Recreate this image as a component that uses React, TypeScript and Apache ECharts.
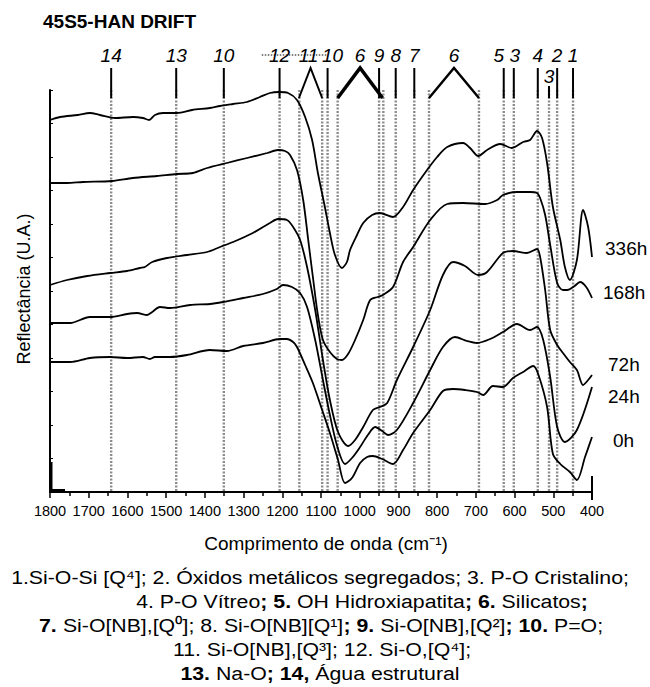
import React, { useEffect, useRef } from "react";
import * as echarts from "echarts";

// ---- Data (wavenumber cm-1, reflectance in arbitrary units) ----
const curveNames = ["336h", "168h", "72h", "24h", "0h"];

const curve336h: number[][] = [
  [1800, 372], [1774, 375], [1728, 377], [1697, 379], [1671, 377], [1632, 374], [1586, 375], [1560, 374],
  [1544, 372], [1529, 377], [1508, 379], [1472, 379], [1433, 382], [1387, 384], [1361, 386], [1327, 388],
  [1291, 390], [1258, 395], [1232, 399], [1208, 400], [1185, 399], [1162, 392], [1141, 375], [1123, 352],
  [1108, 319], [1090, 285], [1077, 259], [1064, 237], [1046, 224], [1033, 230], [1025, 242], [1007, 257],
  [991, 269], [968, 277], [948, 279], [914, 275], [888, 285], [862, 302], [826, 322], [800, 335],
  [774, 345], [733, 349], [715, 344], [694, 336], [671, 342], [637, 348], [607, 344], [578, 350],
  [560, 352], [542, 361], [529, 354], [516, 329], [501, 285], [482, 252], [470, 225], [457, 212],
  [439, 232], [423, 282], [410, 265], [400, 235],
];

const curve168h: number[][] = [
  [1800, 309], [1756, 309], [1715, 310], [1640, 311], [1586, 314], [1524, 316], [1472, 318], [1431, 319],
  [1394, 324], [1343, 329], [1291, 334], [1239, 339], [1211, 342], [1193, 341], [1180, 337], [1162, 322],
  [1146, 292], [1133, 252], [1120, 212], [1108, 177], [1095, 152], [1077, 140], [1059, 133], [1046, 132],
  [1030, 138], [1012, 152], [991, 172], [973, 192], [953, 195], [940, 197], [914, 205], [888, 230],
  [862, 245], [818, 272], [774, 288], [733, 289], [676, 288], [645, 292], [630, 297], [594, 300],
  [560, 300], [542, 299], [534, 294], [521, 277], [508, 247], [490, 209], [475, 202], [464, 202],
  [445, 206], [431, 210], [415, 205], [400, 194],
];

const curve72h: number[][] = [
  [1800, 207], [1756, 212], [1704, 216], [1645, 219], [1601, 221], [1568, 224], [1555, 225], [1536, 230],
  [1498, 234], [1446, 237], [1394, 240], [1361, 245], [1327, 250], [1276, 259], [1232, 269], [1211, 273],
  [1188, 272], [1172, 265], [1154, 252], [1136, 225], [1115, 182], [1095, 132], [1077, 92], [1056, 60],
  [1030, 46], [1012, 52], [991, 65], [966, 82], [948, 85], [929, 89], [904, 112], [862, 145],
  [818, 182], [785, 217], [759, 230], [728, 226], [694, 217], [671, 220], [630, 239], [604, 241],
  [568, 239], [542, 243], [534, 235], [521, 202], [508, 162], [490, 147], [475, 139], [457, 130],
  [439, 122], [423, 107], [410, 112], [400, 117],
];

const curve24h: number[][] = [
  [1800, 169], [1748, 169], [1697, 175], [1645, 175], [1601, 178], [1575, 179], [1549, 177], [1536, 180],
  [1516, 185], [1490, 184], [1438, 187], [1387, 188], [1353, 190], [1301, 194], [1250, 198], [1214, 203],
  [1198, 207], [1175, 205], [1154, 199], [1136, 185], [1115, 152], [1095, 112], [1077, 77], [1059, 47],
  [1038, 28], [1020, 34], [999, 45], [979, 57], [960, 65], [942, 61], [927, 57], [904, 62],
  [862, 89], [818, 122], [785, 145], [754, 155], [723, 151], [697, 149], [663, 153], [630, 160],
  [594, 168], [560, 162], [542, 165], [526, 152], [508, 115], [490, 65], [470, 50], [439, 62],
  [400, 105],
];

const curve0h: number[][] = [
  [1800, 130], [1748, 130], [1697, 134], [1645, 135], [1601, 134], [1560, 135], [1542, 133], [1529, 135],
  [1490, 135], [1446, 137], [1387, 142], [1343, 141], [1301, 146], [1250, 149], [1206, 153], [1188, 153],
  [1172, 150], [1162, 145], [1141, 127], [1121, 109], [1097, 82], [1077, 59], [1056, 32], [1038, 9],
  [1020, 14], [999, 29], [981, 35], [966, 36], [942, 33], [914, 28], [888, 42], [862, 59],
  [818, 82], [785, 101], [759, 103], [728, 102], [697, 100], [681, 97], [656, 106], [630, 105],
  [604, 114], [578, 120], [552, 126], [539, 118], [516, 85], [501, 38], [482, 28], [457, 20],
  [439, 12], [418, 35], [400, 55],
];

const curves = [curve336h, curve168h, curve72h, curve24h, curve0h];

// Band assignments (wavenumbers)
const guideLines = [1642, 1474, 1351, 1207, 1156, 1097, 1083, 1057, 950, 939, 907, 859, 821, 692, 628, 602, 540, 511, 490, 449];
const barMarks = [1642, 1474, 1351, 1207, 1083, 950, 907, 859, 628, 602, 540, 490, 449];
const barLabels = ["14", "13", "10", "12", "10", "9", "8", "7", "5", "3", "4", "2", "1"];
const peakStarts = [1157, 1057, 821];
const peakEnds = [1097, 941, 692];
const peakLabels = ["11", "6", "6"];
const subMarks = [511];
const subLabels = ["3"];
const strikeRange = [[1253, 1082]];

const xTickMin = 400;
const xTickMax = 1800;

const captionLines = [
  "1.Si-O-Si [Q⁴]; 2. Óxidos metálicos segregados; 3. P-O Cristalino;",
  "4. P-O Vítreo{b|; 5.} OH Hidroxiapatita{b|; 6.} Silicatos{b|;}",
  "{b|7.} Si-O[NB],[Q⁰]; 8. Si-O[NB][Q¹]{b|; 9.} Si-O[NB],[Q²]{b|; 10.} P=O;",
  "11. Si-O[NB],[Q³]; 12. Si-O,[Q⁴];",
  "{b|13.} Na-O{b|; 14,} Água estrutural",
];

const FAMILY = '"Liberation Sans", Arial, sans-serif';
const LABEL_FONT = 'italic 19px "Liberation Sans", Arial, sans-serif';

// label nudges (layout only)
const barLabelShift = [0, 0, 0, 0, 5, 0, 0, 0, -5, 1, 0, 0, 0];
const peakLabelShift = [-2, 0, 0];

function txt(text: string, x: number, y: number, size: number, align = "center", extra: any = {}, bold = false) {
  return {
    type: "text",
    x,
    y,
    silent: true,
    ...extra,
    style: {
      text,
      fontSize: size,
      fontFamily: FAMILY,
      fontWeight: bold ? "bold" : "normal",
      fill: "#000",
      align,
      textAlign: align,
      verticalAlign: "middle",
      textVerticalAlign: "middle",
      rich: { b: { fontWeight: "bold", fontSize: size, fontFamily: FAMILY, fill: "#000" } },
    },
  };
}

export default function App() {
  const ref = useRef<HTMLDivElement>(null);
  useEffect(() => {
    if (!ref.current) return;
    const chart = echarts.init(ref.current, undefined, { renderer: "svg" });

    const lineSeries = curves.map((data, i) => ({
      name: curveNames[i],
      type: "line",
      data,
      smooth: 0.3,
      showSymbol: false,
      symbol: "none",
      z: 3,
      lineStyle: { color: "#000", width: 1.8 },
      silent: true,
    }));

    const captionY = [577, 601, 625, 649, 673];
    const captionX = [320, 362, 321, 322, 320];

    const labelText = (text: string, x: number, y: number) => ({
      type: "text",
      style: {
        text, x, y, font: LABEL_FONT, fill: "#000",
        align: "center", verticalAlign: "middle", textAlign: "center", textVerticalAlign: "middle",
      },
    });

    const option: any = {
      animation: false,
      grid: { left: 50, right: 58, top: 90, bottom: 195, containLabel: false },
      xAxis: {
        type: "value",
        min: xTickMin,
        max: xTickMax,
        interval: 100,
        inverse: true,
        axisLine: { show: true, lineStyle: { color: "#000", width: 2 } },
        axisTick: { show: true, length: 6, lineStyle: { color: "#000", width: 1.5 } },
        minorTick: { show: true, splitNumber: 2, length: 4, lineStyle: { color: "#000", width: 1.5 } },
        splitLine: { show: false },
        axisLabel: {
          color: "#000",
          fontSize: 14.5,
          fontFamily: FAMILY,
          margin: 11,
          showMinLabel: true,
          showMaxLabel: true,
          hideOverlap: false,
          formatter: (v: number) => String(v),
        },
      },
      yAxis: {
        type: "value",
        min: 0,
        max: 402,
        interval: 33.5,
        axisLine: { show: true, lineStyle: { color: "#000", width: 2 } },
        axisTick: { show: true, inside: true, length: 3, lineStyle: { color: "#000", width: 1 } },
        axisLabel: { show: false },
        splitLine: { show: false },
      },
      series: [
        {
          name: "guides",
          type: "custom",
          z: 1,
          silent: true,
          clip: false,
          data: guideLines.map((w) => [w, 0]),
          renderItem: (params: any, api: any) => {
            const x = api.coord([api.value(0), 0])[0];
            const cs = params.coordSys;
            return {
              type: "line",
              shape: { x1: x, y1: cs.y, x2: x, y2: cs.y + cs.height },
              style: { stroke: "#8c8c8c", lineWidth: 2.4, lineDash: [2, 1.5] },
            };
          },
        },
        {
          name: "bars",
          type: "custom",
          z: 4,
          silent: true,
          clip: false,
          data: barMarks.map((w) => [w, 0]),
          renderItem: (params: any, api: any) => {
            const x = api.coord([api.value(0), 0])[0];
            const top = params.coordSys.y;
            return {
              type: "group",
              children: [
                { type: "line", shape: { x1: x, y1: top - 22, x2: x, y2: top + 8 }, style: { stroke: "#000", lineWidth: 2 } },
                labelText(barLabels[params.dataIndex], x + barLabelShift[params.dataIndex], top - 35),
              ],
            };
          },
        },
        {
          name: "peaks",
          type: "custom",
          z: 4,
          silent: true,
          clip: false,
          data: peakStarts.map((w, i) => [w, peakEnds[i]]),
          renderItem: (params: any, api: any) => {
            const x1 = api.coord([api.value(0), 0])[0];
            const x2 = api.coord([api.value(1), 0])[0];
            const xm = (x1 + x2) / 2;
            const top = params.coordSys.y;
            const lw = params.dataIndex === 1 ? 3.5 : params.dataIndex === 2 ? 2.4 : 2;
            return {
              type: "group",
              children: [
                {
                  type: "polyline",
                  shape: { points: [[x1, top + 8], [xm, top - 22], [x2, top + 8]] },
                  style: { stroke: "#000", lineWidth: lw, fill: "none" },
                },
                labelText(peakLabels[params.dataIndex], xm + peakLabelShift[params.dataIndex], top - 35),
              ],
            };
          },
        },
        {
          name: "sub",
          type: "custom",
          z: 4,
          silent: true,
          clip: false,
          data: subMarks.map((w) => [w, 0]),
          renderItem: (params: any, api: any) => {
            const x = api.coord([api.value(0), 0])[0];
            const top = params.coordSys.y;
            return {
              type: "group",
              children: [
                { type: "line", shape: { x1: x, y1: top - 4, x2: x, y2: top + 8 }, style: { stroke: "#000", lineWidth: 2 } },
                labelText(subLabels[params.dataIndex], x, top - 14),
              ],
            };
          },
        },
        {
          name: "strike",
          type: "custom",
          z: 5,
          silent: true,
          clip: false,
          data: strikeRange,
          renderItem: (params: any, api: any) => {
            const x1 = api.coord([api.value(0), 0])[0];
            const x2 = api.coord([api.value(1), 0])[0];
            const top = params.coordSys.y;
            return {
              type: "line",
              shape: { x1, y1: top - 35, x2, y2: top - 35 },
              style: { stroke: "#000", lineWidth: 1, lineDash: [1.5, 1.5] },
            };
          },
        },
        ...lineSeries,
      ],
      graphic: [
        txt("45S5-HAN DRIFT", 43, 21.5, 19, "left", {}, true),
        txt("Reflectância (U.A.)", 24, 289, 18, "center", { rotation: Math.PI / 2 }),
        txt("Comprimento de onda (cm⁻¹)", 326, 543, 19),
        txt(curveNames[0], 605, 248, 19, "left"),
        txt(curveNames[1], 603, 292, 19, "left"),
        txt(curveNames[2], 608, 364, 19, "left"),
        txt(curveNames[3], 608, 396, 19, "left"),
        txt(curveNames[4], 613, 440, 19, "left"),
        ...captionLines.map((line, i) => txt(line, captionX[i], captionY[i], 19, "center", { scaleX: 1.12 })),
        {
          type: "line",
          silent: true,
          shape: { x1: 592, y1: 476, x2: 592, y2: 500 },
          style: { stroke: "#000", lineWidth: 2 },
        },
        { type: "rect", silent: true, shape: { x: 49, y: 462, width: 3.5, height: 30 }, style: { fill: "#000" } },
        { type: "rect", silent: true, shape: { x: 49, y: 489, width: 16, height: 3.5 }, style: { fill: "#000" } },
      ],
    };

    chart.setOption(option);
    return () => chart.dispose();
  }, []);

  return (
    <div
      ref={ref}
      style={{ position: "fixed", left: 0, top: 0, width: 650, height: 687, background: "#fff" }}
    />
  );
}
